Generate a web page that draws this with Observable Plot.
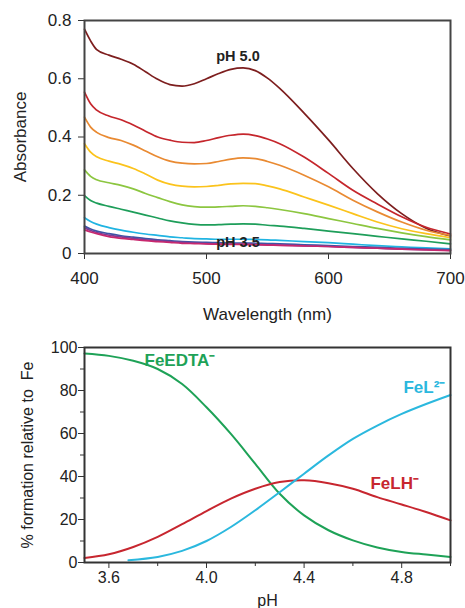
<!DOCTYPE html>
<html>
<head>
<meta charset="utf-8">
<script src="https://cdn.jsdelivr.net/npm/d3@7"></script>
<script src="https://cdn.jsdelivr.net/npm/@observablehq/plot@0.6"></script>
<style>
  html, body { margin: 0; padding: 0; background: #fff; }
  #chart { width: 465px; }
  #chart svg { display: block; }
</style>
</head>
<body>
<div id="chart"></div>
<script>
// ---------- Top panel: absorbance spectra ----------
const wavelengths = [400,405,410,420,430,440,450,460,470,480,490,500,510,520,530,540,550,560,580,600,620,640,660,680,700];
const specNames = ["pH 5.0","s2","s3","s4","s5","s6","s7","s8","s9","pH 3.5"];
const spec1 = [0.770,0.730,0.700,0.681,0.667,0.650,0.624,0.598,0.580,0.575,0.583,0.600,0.618,0.632,0.637,0.628,0.602,0.567,0.482,0.390,0.292,0.206,0.137,0.087,0.060];
const spec2 = [0.554,0.514,0.492,0.472,0.459,0.441,0.420,0.400,0.389,0.382,0.381,0.388,0.398,0.406,0.410,0.405,0.393,0.377,0.331,0.275,0.217,0.170,0.126,0.090,0.067];
const spec3 = [0.468,0.434,0.416,0.398,0.388,0.372,0.352,0.332,0.317,0.310,0.308,0.309,0.316,0.324,0.328,0.326,0.316,0.303,0.269,0.229,0.183,0.143,0.108,0.080,0.062];
const spec4 = [0.377,0.348,0.332,0.317,0.306,0.292,0.273,0.252,0.238,0.231,0.229,0.230,0.234,0.239,0.241,0.240,0.232,0.222,0.194,0.166,0.137,0.108,0.085,0.068,0.054];
const spec5 = [0.287,0.265,0.253,0.243,0.234,0.222,0.206,0.192,0.178,0.167,0.161,0.159,0.160,0.162,0.164,0.162,0.157,0.151,0.137,0.120,0.103,0.086,0.071,0.058,0.047];
const spec6 = [0.199,0.182,0.173,0.162,0.152,0.142,0.132,0.122,0.112,0.105,0.100,0.098,0.099,0.101,0.102,0.101,0.097,0.094,0.086,0.077,0.068,0.059,0.050,0.042,0.033];
const spec7 = [0.123,0.110,0.101,0.089,0.080,0.073,0.067,0.062,0.057,0.054,0.051,0.050,0.049,0.049,0.049,0.048,0.047,0.045,0.041,0.037,0.032,0.027,0.023,0.019,0.016];
const spec8 = [0.094,0.084,0.077,0.068,0.061,0.056,0.051,0.047,0.044,0.041,0.039,0.038,0.037,0.036,0.036,0.035,0.034,0.033,0.030,0.027,0.024,0.021,0.018,0.015,0.013];
const spec9 = [0.088,0.079,0.072,0.063,0.057,0.052,0.047,0.044,0.041,0.038,0.036,0.034,0.033,0.032,0.032,0.031,0.030,0.029,0.026,0.024,0.021,0.018,0.015,0.013,0.011];
const spec10 = [0.081,0.074,0.068,0.058,0.052,0.048,0.044,0.041,0.038,0.035,0.034,0.033,0.032,0.031,0.031,0.030,0.029,0.028,0.026,0.024,0.021,0.018,0.015,0.012,0.010];
const specColors = ["#7d1e1e","#c5262c","#e98a32","#fbc31c","#8cc640","#1e9e5a","#20b4e2","#3b55a6","#7a3e96","#c8286e"];
const absTicks = [0, 0.2, 0.4, 0.6, 0.8];
const wlTicks = [400, 500, 600, 700];
const specLabels = [
  {text: "pH 5.0", w: 508, a: 0.676},
  {text: "pH 3.5", w: 508, a: 0.037}
];

// ---------- Bottom panel: speciation ----------
const pH = [3.5,3.6,3.7,3.8,3.9,4.0,4.1,4.2,4.3,4.4,4.5,4.6,4.7,4.8,4.9,5.0];
const feEDTA = [97.2,96.1,93.8,90.0,83.0,72.2,59.8,45.9,32.0,21.9,15.0,10.3,7.0,4.9,3.7,2.6];
const feLH = [2.1,3.8,7.2,11.9,17.8,23.9,29.7,34.3,37.4,38.2,36.9,34.3,30.4,27.0,23.5,19.6];
const pHFeL = [3.68,3.8,3.9,4.0,4.1,4.2,4.3,4.4,4.5,4.6,4.7,4.8,4.9,5.0];
const feL = [1.1,2.6,5.4,10.0,16.5,24.3,32.7,41.3,49.8,57.5,63.7,69.1,73.7,77.9];
const speciesNames = ["FeEDTA", "FeLH", "FeL"];
const speciesColors = ["#1ea257", "#c7262f", "#2bb8de"];
const speciesLabels = [
  {text: "FeEDTA\u207B", s: "FeEDTA", x: 3.746, y: 93.8},
  {text: "FeL\u00B2\u207B", s: "FeL", x: 4.807, y: 81.3},
  {text: "FeLH\u207B", s: "FeLH", x: 4.672, y: 36.8}
];
const pctMajor = [0, 20, 40, 60, 80, 100];
const pctMinor = [10, 30, 50, 70, 90];
const pHMajor = [3.6, 4.0, 4.4, 4.8];
const pHMinor = [3.8, 4.2, 4.6, 5.0];

const font = "'Liberation Sans', Arial, Helvetica, sans-serif";

const specSeries = [spec1,spec2,spec3,spec4,spec5,spec6,spec7,spec8,spec9,spec10];
const specRows = specSeries.flatMap((vals, i) =>
  vals.map((a, j) => ({s: specNames[i], w: wavelengths[j], a})));

const topPlot = Plot.plot({
  width: 465, height: 330,
  marginLeft: 84, marginRight: 15, marginTop: 20, marginBottom: 77,
  style: {fontFamily: font, fontSize: "17px", color: "#222", background: "#fff"},
  x: {domain: [400, 700]},
  y: {domain: [0, 0.8]},
  color: {domain: specNames, range: specColors},
  marks: [
    Plot.lineY(specRows, {x: "w", y: "a", z: "s", stroke: "s", strokeWidth: 1.7, curve: "monotone-x"}),
    Plot.text(specLabels, {x: "w", y: "a", text: "text", textAnchor: "start", fontWeight: "bold", fontSize: 14.5, fill: "#222"}),
    Plot.axisY({ticks: absTicks, tickSize: 6, tickPadding: 7, label: null,
      tickFormat: d => d === 0 ? "0" : d.toFixed(1), stroke: "#333"}),
    Plot.axisX({ticks: wlTicks, tickSize: 6, tickPadding: 12, label: null, tickFormat: d => String(d), stroke: "#333"}),
    Plot.frame({stroke: "#444", strokeWidth: 2}),
    Plot.text(["Wavelength (nm)"], {frameAnchor: "bottom", dy: 61, lineAnchor: "middle", textAnchor: "middle", fontSize: 17, fill: "#222"}),
    Plot.text(["Absorbance"], {frameAnchor: "left", dx: -64, rotate: -90, textAnchor: "middle", lineAnchor: "middle", fontSize: 17, fill: "#222"})
  ]
});

const specRowsB = [
  ...pH.map((x, i) => ({s: "FeEDTA", x, y: feEDTA[i]})),
  ...pH.map((x, i) => ({s: "FeLH", x, y: feLH[i]})),
  ...pHFeL.map((x, i) => ({s: "FeL", x, y: feL[i]}))
];

const bottomPlot = Plot.plot({
  width: 465, height: 278,
  marginLeft: 84, marginRight: 15, marginTop: 17, marginBottom: 46,
  style: {fontFamily: font, fontSize: "16px", color: "#222", background: "#fff"},
  x: {domain: [3.5, 5.0]},
  y: {domain: [0, 100]},
  color: {domain: speciesNames, range: speciesColors},
  marks: [
    Plot.line(specRowsB, {x: "x", y: "y", z: "s", stroke: "s", strokeWidth: 2, curve: "catmull-rom"}),
    Plot.text(speciesLabels, {x: "x", y: "y", text: "text", fill: "s", textAnchor: "start", fontWeight: "bold", fontSize: 17}),
    Plot.axisY({ticks: pctMajor, tickSize: 6, tickPadding: 1, label: null, tickFormat: d => String(d), stroke: "#333"}),
    Plot.axisY({ticks: pctMinor, tickSize: 4, label: null, tickFormat: () => "", stroke: "#333"}),
    Plot.axisX({ticks: pHMajor, tickSize: 6, tickPadding: 3, label: null, tickFormat: d => d.toFixed(1), stroke: "#333"}),
    Plot.axisX({ticks: pHMinor, tickSize: 4, label: null, tickFormat: () => "", stroke: "#333"}),
    Plot.frame({stroke: "#333", strokeWidth: 2}),
    Plot.text(["pH"], {frameAnchor: "bottom", dy: 38, lineAnchor: "middle", textAnchor: "middle", fontSize: 16, fill: "#222"}),
    Plot.text(["% formation relative to\u00A0 Fe"], {frameAnchor: "left", dx: -57, rotate: -90, textAnchor: "middle", lineAnchor: "middle", fontSize: 16, fill: "#222"})
  ]
});

const el = document.getElementById("chart");
el.appendChild(topPlot);
el.appendChild(bottomPlot);
</script>
</body>
</html>
